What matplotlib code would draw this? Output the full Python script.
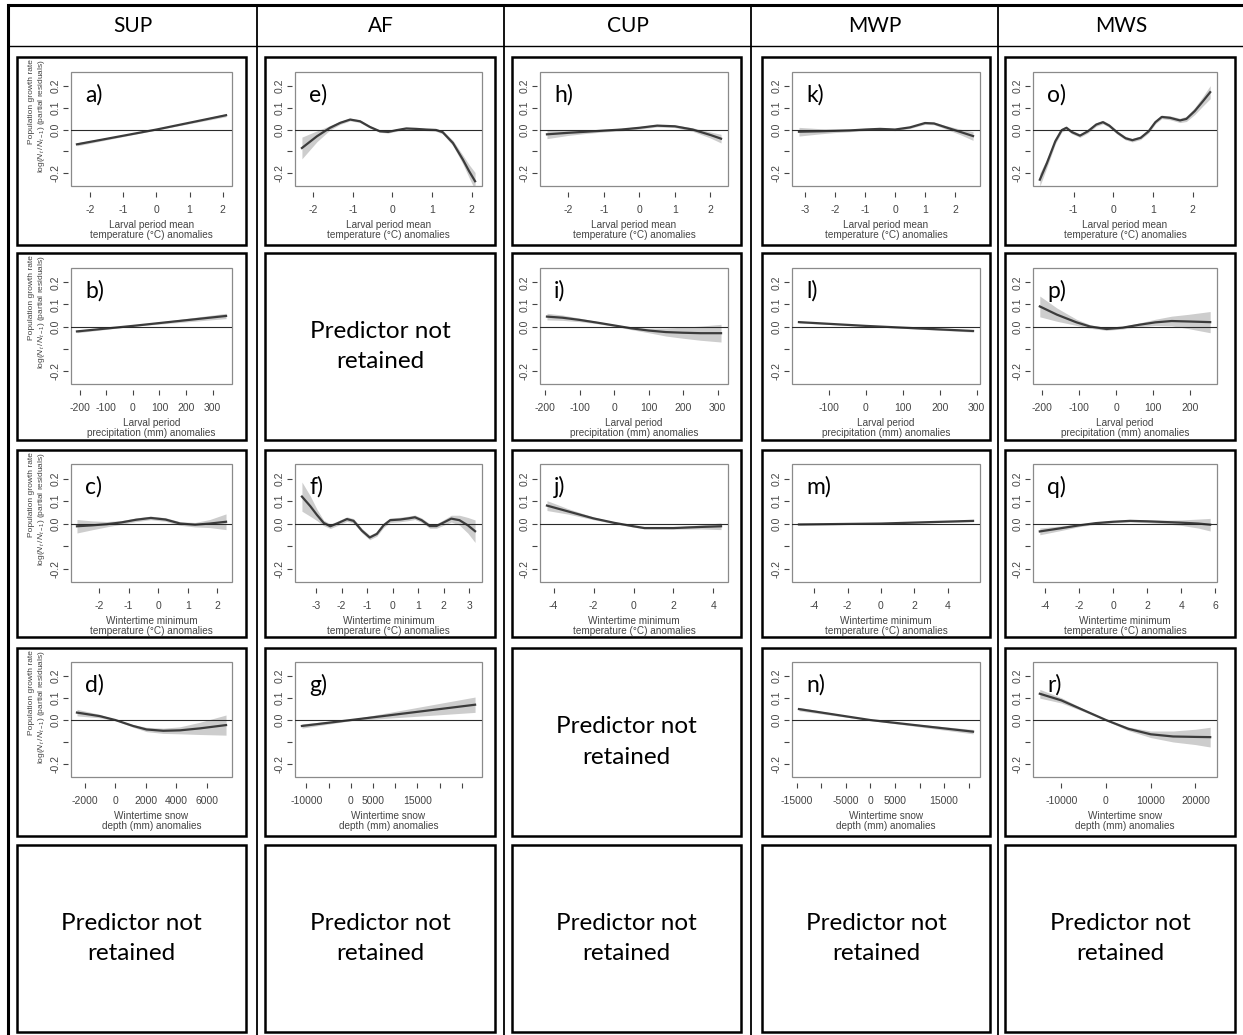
import numpy as np
import matplotlib.pyplot as plt
from matplotlib.patches import Rectangle

W, H = 1243, 1035

species = ['SUP', 'AF', 'CUP', 'MWP', 'MWS']
no_pred = 'Predictor not\nretained'

xlab_temp = 'Larval period mean\ntemperature (°C) anomalies'
xlab_prec = 'Larval period\nprecipitation (mm) anomalies'
xlab_wmin = 'Wintertime minimum\ntemperature (°C) anomalies'
xlab_snow = 'Wintertime snow\ndepth (mm) anomalies'

# partial effect curves: x, fitted smooth, half-width of the grey band
x_a = [-2.4, 0.0, 2.1]
fit_a = [-0.068, 0.0, 0.066]
se_a = [0.007, 0.002, 0.007]

x_b = [-210, 0, 350]
fit_b = [-0.022, 0.003, 0.048]
se_b = [0.006, 0.002, 0.012]

x_c = [-2.75, -2.25, -1.75, -1.25, -0.75, -0.25, 0.25, 0.75, 1.25, 1.75, 2.3]
fit_c = [-0.012, -0.008, -0.003, 0.005, 0.017, 0.025, 0.018, 0.0, -0.005, 0.0, 0.008]
se_c = [0.03, 0.02, 0.012, 0.008, 0.008, 0.008, 0.008, 0.008, 0.01, 0.018, 0.035]

x_d = [-2527, -1033, 0, 1165, 2044, 3143, 4242, 5560, 7275]
fit_d = [0.034, 0.018, 0.0, -0.027, -0.043, -0.049, -0.047, -0.038, -0.023]
se_d = [0.015, 0.008, 0.002, 0.006, 0.01, 0.012, 0.016, 0.028, 0.046]

x_e = [-2.29, -1.91, -1.58, -1.32, -1.07, -0.82, -0.57, -0.32, -0.11, 0.1, 0.35,
       0.6, 0.85, 1.1, 1.27, 1.53, 1.78, 1.94, 2.09]
fit_e = [-0.085, -0.031, 0.008, 0.031, 0.046, 0.038, 0.012, -0.008, -0.011, -0.003, 0.005,
         0.003, 0.0, -0.002, -0.012, -0.062, -0.138, -0.192, -0.238]
se_e = [0.05, 0.025, 0.01, 0.007, 0.006, 0.006, 0.005, 0.005, 0.005, 0.005, 0.005,
        0.005, 0.005, 0.006, 0.008, 0.012, 0.02, 0.03, 0.04]

x_f = [-3.55, -3.22, -2.96, -2.7, -2.44, -2.18, -1.79, -1.53, -1.21, -0.9, -0.62, -0.36,
       -0.1, 0.29, 0.61, 0.87, 1.13, 1.45, 1.71, 1.96, 2.29, 2.61, 2.94, 3.22]
fit_f = [0.12, 0.077, 0.038, 0.003, -0.012, 0.0, 0.02, 0.012, -0.031, -0.062, -0.046, -0.008,
         0.015, 0.018, 0.023, 0.028, 0.015, -0.011, -0.011, 0.003, 0.022, 0.015, -0.008, -0.034]
se_f = [0.065, 0.045, 0.025, 0.012, 0.01, 0.01, 0.01, 0.01, 0.01, 0.01, 0.01, 0.01,
        0.01, 0.01, 0.01, 0.01, 0.01, 0.01, 0.01, 0.012, 0.015, 0.022, 0.035, 0.05]

x_g = [-11000, 0, 28000]
fit_g = [-0.027, 0.0, 0.07]
se_g = [0.01, 0.003, 0.035]

x_h = [-2.6, -2.0, -1.5, -1.0, -0.5, 0.0, 0.5, 1.0, 1.5, 2.0, 2.3]
fit_h = [-0.022, -0.015, -0.01, -0.005, 0.0, 0.008, 0.018, 0.015, 0.0, -0.025, -0.042]
se_h = [0.02, 0.012, 0.008, 0.006, 0.006, 0.006, 0.006, 0.006, 0.008, 0.014, 0.02]

x_i = [-195, -150, -100, -50, 0, 50, 100, 150, 200, 250, 310]
fit_i = [0.045, 0.04, 0.03, 0.018, 0.005, -0.008, -0.018, -0.025, -0.028, -0.03, -0.03]
se_i = [0.015, 0.012, 0.008, 0.005, 0.004, 0.006, 0.01, 0.018, 0.025, 0.032, 0.04]

x_j = [-4.33, -3.27, -2.0, -0.95, 0.0, 0.55, 2.0, 3.38, 4.38]
fit_j = [0.08, 0.054, 0.023, 0.003, -0.012, -0.02, -0.02, -0.015, -0.012]
se_j = [0.022, 0.012, 0.006, 0.004, 0.004, 0.004, 0.005, 0.009, 0.015]

x_k = [-3.2, -2.5, -2.0, -1.5, -1.0, -0.5, 0.0, 0.5, 1.0, 1.3, 1.7, 2.2, 2.6]
fit_k = [-0.01, -0.008, -0.006, -0.004, 0.0, 0.003, 0.0, 0.01, 0.03, 0.028, 0.01, -0.012, -0.03]
se_k = [0.02, 0.012, 0.008, 0.006, 0.005, 0.005, 0.005, 0.005, 0.006, 0.006, 0.008, 0.013, 0.02]

x_l = [-180, 0, 290]
fit_l = [0.02, 0.003, -0.02]
se_l = [0.004, 0.002, 0.005]

x_m = [-4.9, 0.0, 5.5]
fit_m = [-0.004, 0.0, 0.012]
se_m = [0.003, 0.002, 0.004]

x_n = [-14550, 0, 20900]
fit_n = [0.05, 0.0, -0.053]
se_n = [0.008, 0.002, 0.01]

x_o = [-1.85, -1.67, -1.46, -1.3, -1.18, -1.04, -0.84, -0.64, -0.43, -0.26, -0.1, 0.11,
       0.31, 0.48, 0.69, 0.89, 1.06, 1.22, 1.43, 1.68, 1.84, 2.05, 2.26, 2.44]
fit_o = [-0.231, -0.154, -0.054, -0.003, 0.008, -0.012, -0.028, -0.008, 0.023, 0.034, 0.018, -0.015,
         -0.04, -0.049, -0.038, -0.008, 0.034, 0.058, 0.054, 0.042, 0.049, 0.085, 0.131, 0.172]
se_o = [0.03, 0.02, 0.012, 0.009, 0.008, 0.008, 0.008, 0.008, 0.008, 0.008, 0.008, 0.008,
        0.008, 0.008, 0.008, 0.008, 0.008, 0.008, 0.009, 0.01, 0.012, 0.016, 0.022, 0.03]

x_p = [-206, -160, -107, -70, -26, 18, 62, 106, 150, 194, 254]
fit_p = [0.091, 0.054, 0.019, 0.0, -0.011, -0.005, 0.008, 0.019, 0.025, 0.023, 0.02]
se_p = [0.047, 0.03, 0.014, 0.008, 0.006, 0.006, 0.008, 0.014, 0.022, 0.032, 0.048]

x_q = [-4.3, -3.0, -2.0, -1.0, 0.0, 1.0, 2.0, 3.0, 4.0, 5.0, 5.7]
fit_q = [-0.035, -0.02, -0.008, 0.002, 0.008, 0.012, 0.01, 0.007, 0.004, 0.0, -0.005]
se_q = [0.015, 0.01, 0.006, 0.005, 0.005, 0.005, 0.006, 0.008, 0.012, 0.02, 0.028]

x_r = [-14800, -10000, -5000, 0, 5000, 10000, 15000, 20000, 23300]
fit_r = [0.12, 0.09, 0.045, 0.0, -0.04, -0.065, -0.075, -0.077, -0.078]
se_r = [0.02, 0.012, 0.006, 0.003, 0.008, 0.015, 0.025, 0.035, 0.045]

ticks_temp2 = [-2, -1, 0, 1, 2]
ticks_prec = [-200, -100, 0, 100, 200, 300]

# (letter, column, row, x, fit, se, xticks, xticklabels, xlabel)
panels = [
    ('a)', 0, 0, x_a, fit_a, se_a, ticks_temp2, None, xlab_temp),
    ('b)', 0, 1, x_b, fit_b, se_b, ticks_prec, None, xlab_prec),
    ('c)', 0, 2, x_c, fit_c, se_c, ticks_temp2, None, xlab_wmin),
    ('d)', 0, 3, x_d, fit_d, se_d, [-2000, 0, 2000, 4000, 6000], None, xlab_snow),
    ('e)', 1, 0, x_e, fit_e, se_e, ticks_temp2, None, xlab_temp),
    ('f)', 1, 2, x_f, fit_f, se_f, [-3, -2, -1, 0, 1, 2, 3], None, xlab_wmin),
    ('g)', 1, 3, x_g, fit_g, se_g, [-10000, -5000, 0, 5000, 10000, 15000, 20000, 25000],
     ['-10000', '', '0', '5000', '', '15000', '', ''], xlab_snow),
    ('h)', 2, 0, x_h, fit_h, se_h, ticks_temp2, None, xlab_temp),
    ('i)', 2, 1, x_i, fit_i, se_i, ticks_prec, None, xlab_prec),
    ('j)', 2, 2, x_j, fit_j, se_j, [-4, -2, 0, 2, 4], None, xlab_wmin),
    ('k)', 3, 0, x_k, fit_k, se_k, [-3, -2, -1, 0, 1, 2], None, xlab_temp),
    ('l)', 3, 1, x_l, fit_l, se_l, [-100, 0, 100, 200, 300], None, xlab_prec),
    ('m)', 3, 2, x_m, fit_m, se_m, [-4, -2, 0, 2, 4], None, xlab_wmin),
    ('n)', 3, 3, x_n, fit_n, se_n, [-15000, -10000, -5000, 0, 5000, 10000, 15000, 20000],
     ['-15000', '', '-5000', '0', '5000', '', '15000', ''], xlab_snow),
    ('o)', 4, 0, x_o, fit_o, se_o, [-1, 0, 1, 2], None, xlab_temp),
    ('p)', 4, 1, x_p, fit_p, se_p, [-200, -100, 0, 100, 200], None, xlab_prec),
    ('q)', 4, 2, x_q, fit_q, se_q, [-4, -2, 0, 2, 4, 6], None, xlab_wmin),
    ('r)', 4, 3, x_r, fit_r, se_r, [-10000, 0, 10000, 20000], None, xlab_snow),
]
empty_cells = [(1, 1), (2, 3), (0, 4), (1, 4), (2, 4), (3, 4), (4, 4)]

yticks = [-0.2, -0.1, 0.0, 0.1, 0.2]
ytick_labels = ['-0.2', '', '0.0', '0.1', '0.2']

# layout in pixels (x from left, y from top)
col_lines = [8, 257, 504, 751, 998, 1245]
box_x = [(17, 246), (265, 495), (512, 741), (762, 990), (1005, 1235)]
box_y = [(57, 245), (253, 440), (450, 637), (648, 836), (845, 1032)]
ax_x = [(71, 232), (295, 482), (540, 728), (792, 980), (1033, 1217)]
ax_y = [(72, 186), (268, 384), (464, 582), (662, 777)]

plt.rcParams['mathtext.fontset'] = 'custom'
plt.rcParams['mathtext.it'] = 'Liberation Sans:italic'
plt.rcParams['mathtext.rm'] = 'Liberation Sans'

fig = plt.figure(figsize=(W / 100, H / 100), dpi=100)
bg = fig.add_axes([0, 0, 1, 1])
bg.set_xlim(0, W)
bg.set_ylim(H, 0)
bg.axis('off')

# table grid
bg.plot([col_lines[0], W + 5], [5, 5], color='black', lw=2.2, solid_capstyle='butt')
bg.plot([col_lines[0], W + 5], [46, 46], color='black', lw=1.0)
for i, xl in enumerate(col_lines):
    bg.plot([xl, xl], [5, H + 5], color='black', lw=2.2 if i == 0 else 1.3)
for i, name in enumerate(species):
    bg.text((col_lines[i] + col_lines[i + 1]) / 2, 26, name, ha='center', va='center',
            fontsize=15, family='Lato')

# framed boxes for every cell
for c in range(5):
    for r in range(5):
        (bx0, bx1), (by0, by1) = box_x[c], box_y[r]
        bg.add_patch(Rectangle((bx0, by0), bx1 - bx0, by1 - by0, fill=False,
                               ec='black', lw=1.8))
for c, r in empty_cells:
    (bx0, bx1), (by0, by1) = box_x[c], box_y[r]
    bg.text((bx0 + bx1) / 2, (by0 + by1) / 2, no_pred, ha='center', va='center',
            fontsize=17.5, family='Lato', linespacing=1.55)

# y-axis title in the first column
for r in range(4):
    bx0 = box_x[0][0]
    top = box_y[r][0] + 2
    bg.text(bx0 + 15, top, 'Population growth rate', rotation=90, ha='center', va='top',
            fontsize=6.0, color='#444', family='Liberation Sans')
    bg.text(bx0 + 25, top, r'log($N_t\,/\,N_{t-1}$) (partial residuals)', rotation=90,
            ha='center', va='top', fontsize=6.0, color='#444', family='Liberation Sans')

for letter, c, r, x, fit, se, xt, xtl, xlab in panels:
    (x0, x1), (y0, y1) = ax_x[c], ax_y[r]
    ax = fig.add_axes([x0 / W, 1 - y1 / H, (x1 - x0) / W, (y1 - y0) / H])
    x = np.array(x, dtype=float)
    fit = np.array(fit)
    se = np.array(se)
    ax.fill_between(x, fit - se, fit + se, color='#cdcdcd', lw=0)
    ax.plot(x, fit, color='#3c3c3c', lw=1.6, solid_joinstyle='round')
    ax.axhline(0, color='#2a2a2a', lw=0.8)
    pad = 0.04 * (x.max() - x.min())
    ax.set_xlim(x.min() - pad, x.max() + pad)
    ax.set_ylim(-0.26, 0.265)

    for side in ['top', 'right', 'bottom', 'left']:
        ax.spines[side].set_visible(False)
    ax.spines['bottom'].set_position(('outward', 4.3))
    ax.spines['left'].set_position(('outward', 2.2))
    ax.add_patch(Rectangle((0, 0), 1, 1, transform=ax.transAxes, fill=False,
                           ec='#8a8a8a', lw=0.9, clip_on=False))

    ax.set_xticks(xt)
    ax.set_xticklabels(xtl if xtl is not None else [str(v) for v in xt])
    ax.set_yticks(yticks)
    ax.set_yticklabels(ytick_labels, va='center')
    ax.tick_params(axis='both', direction='out', length=3.6, width=0.8, color='#444',
                   labelsize=7.5, labelcolor='#444')
    ax.tick_params(axis='x', pad=5.5)
    ax.tick_params(axis='y', pad=1.5, labelrotation=90)
    for lab in ax.get_xticklabels() + ax.get_yticklabels():
        lab.set_family('Liberation Sans')

    ax.annotate(xlab, xy=(0.5, 0), xycoords='axes fraction', xytext=(0, -34),
                textcoords='offset pixels', ha='center', va='top', fontsize=7.2,
                color='#444', family='Liberation Sans', linespacing=1.0)
    ax.annotate(letter, xy=(0, 1), xycoords='axes fraction', xytext=(14, -12),
                textcoords='offset pixels', ha='left', va='top', fontsize=16.5,
                family='Lato')

fig.savefig('out.png', dpi=100)
